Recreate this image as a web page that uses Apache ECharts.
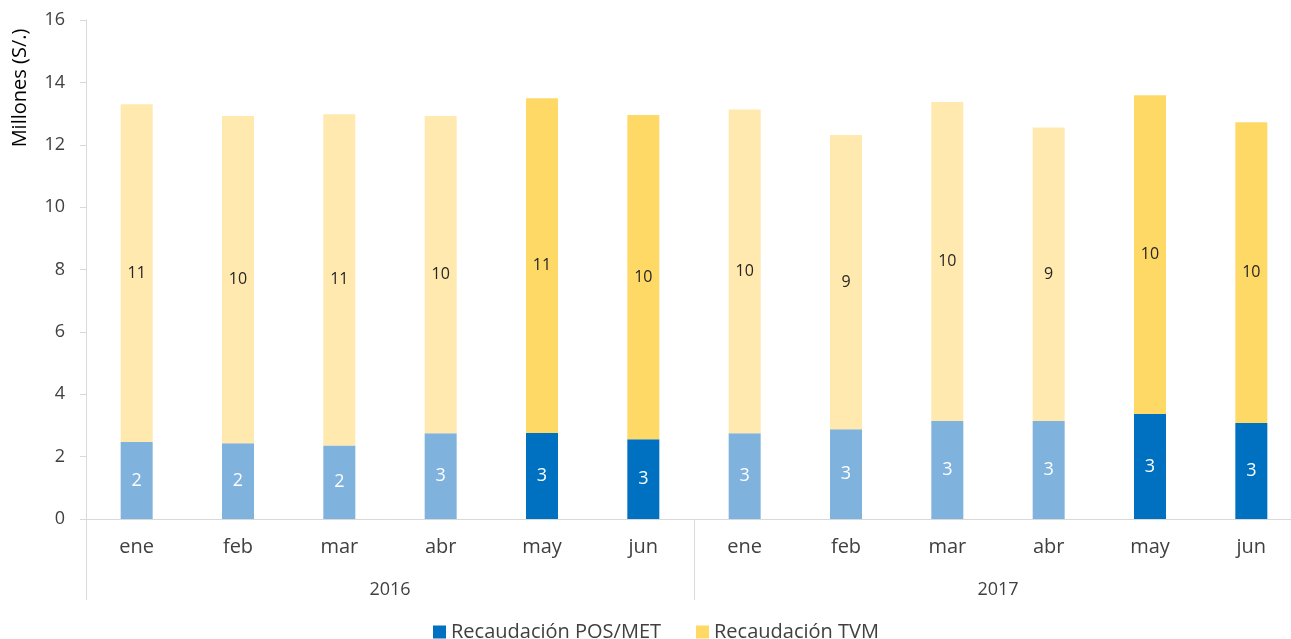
<!DOCTYPE html>
<html>
<head>
<meta charset="utf-8">
<script src="https://cdn.jsdelivr.net/npm/echarts@6/dist/echarts.min.js"></script>
<style>
html,body{margin:0;padding:0;background:#fff;overflow:hidden;}
#c{width:1302px;height:639px;}
</style>
</head>
<body>
<div id="c"></div>
<script>
const months = ['ene','feb','mar','abr','may','jun','ene','feb','mar','abr','may','jun'];
const years = ['2016','2017'];
const posMet = [2.47, 2.43, 2.36, 2.75, 2.76, 2.56, 2.75, 2.88, 3.14, 3.14, 3.37, 3.08];
const tvm = [10.83, 10.49, 10.62, 10.17, 10.73, 10.39, 10.38, 9.43, 10.23, 9.41, 10.22, 9.64];
const darkMonths = ['may','jun'];
const yTicks = [0, 2, 4, 6, 8, 10, 12, 14, 16];

const FONT = 'Open Sans';
const TXT = '#404040';
const AX = '#d9d9d9';
const C = {posDark:'#0070C0', posLight:'#7FB2DD', tvmDark:'#FFD966', tvmLight:'#FFE9AF'};

function items(vals, dark, light){
  return vals.map((v,i)=>({value:v, itemStyle:{color: darkMonths.includes(months[i]) ? dark : light}}));
}

const chart = echarts.init(document.getElementById('c'), null, {renderer:'canvas'});
chart.setOption({
  animation:false,
  textStyle:{fontFamily:FONT},
  grid:{left:86, top:20, bottom:120, right:0, containLabel:false},
  legend:{
    left:428, top:617, itemWidth:13, itemHeight:13, itemGap:35, icon:'rect',
    textStyle:{fontSize:20, color:TXT, fontFamily:FONT},
    data:[{name:'Recaudación POS/MET', itemStyle:{color:C.posDark}},{name:'Recaudación TVM', itemStyle:{color:C.tvmDark}}]
  },
  graphic:[{
    type:'text', x:20, y:88, rotation:Math.PI/2,
    style:{text:'Millones (S/.)', fill:'#000', fontSize:20, fontFamily:FONT, align:'center', verticalAlign:'middle'}
  }],
  xAxis:[{
    type:'category', data:months, position:'bottom',
    axisLine:{show:true, lineStyle:{color:AX}},
    axisTick:{show:false},
    axisLabel:{color:TXT, fontSize:20, margin:18, fontFamily:FONT}
  },{
    type:'category', data:years, position:'bottom', gridIndex:0,
    axisLine:{show:false},
    axisTick:{show:true, length:81, lineStyle:{color:AX}, alignWithLabel:false},
    axisLabel:{color:TXT, fontSize:18, margin:62, fontFamily:FONT}
  }],
  yAxis:{
    type:'value', min:yTicks[0], max:yTicks[yTicks.length-1], interval:2,
    axisLine:{show:true, lineStyle:{color:AX}},
    axisTick:{show:true, length:6, lineStyle:{color:AX}},
    splitLine:{show:false},
    axisLabel:{color:TXT, fontSize:18, margin:21, fontFamily:FONT}
  },
  series:[{
    name:'Recaudación POS/MET', type:'bar', stack:'t', barWidth:32, xAxisIndex:0,
    data:items(posMet, C.posDark, C.posLight),
    itemStyle:{color:C.posDark},
    label:{show:true, position:'inside', color:'#fff', fontSize:18, fontFamily:FONT, formatter:p=>Math.round(p.value)}
  },{
    name:'Recaudación TVM', type:'bar', stack:'t', barWidth:32, xAxisIndex:0,
    data:items(tvm, C.tvmDark, C.tvmLight),
    itemStyle:{color:C.tvmDark},
    label:{show:true, position:'inside', color:'#262626', fontSize:16, fontFamily:FONT, formatter:p=>Math.round(p.value)}
  }]
});
</script>
</body>
</html>
